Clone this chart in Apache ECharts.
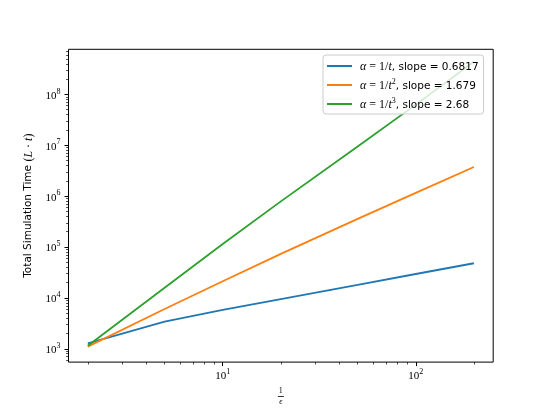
<!DOCTYPE html>
<html>
<head>
<meta charset="utf-8">
<script src="https://cdn.jsdelivr.net/npm/echarts@6/dist/echarts.min.js"></script>
<style>
  html, body { margin: 0; padding: 0; background: #fff; }
  #chart { width: 548px; height: 411px; }
</style>
</head>
<body>
<div id="chart"></div>
<script>
// 1/epsilon values
const xValues = [2, 5, 10, 20, 50, 100, 200]
// total simulation time, one array per schedule
const simT1 = [1280, 3400, 5800, 9500, 18000, 29500, 48000]
const simT2 = [1100, 6040, 21300, 73300, 358000, 1160000, 3750000]
const simT3 = [1150, 15900, 115000, 790000, 9500000, 63000000, 440000000]

const seriesNames = ['t1', 't2', 't3']
const powers = ['', '2', '3']
const slopes = ['0.6817', '1.679', '2.68']
const colors = ['#1f77b4', '#ff7f0e', '#2ca02c']

const xMajor = [1, 10, 100, 1000]
const yMajor = [100, 1000, 10000, 100000, 1000000, 10000000, 100000000, 1000000000]

const xRange = [1.589, 251.8]
const yRange = [547, 7.71e8]

function minorOf(major) {
  const out = []
  major.forEach(m => {
    for (let k = 2; k <= 9; k++) out.push(m * k)
  })
  return out
}

function pair(ys) {
  return xValues.map((x, i) => [x, ys[i]])
}

const serif = 'Liberation Serif'
const sans = 'DejaVu Sans'

const tickRich = {
  b: { fontFamily: serif, fontSize: 11, color: '#000', lineHeight: 14, verticalAlign: 'bottom' },
  e: { fontFamily: serif, fontSize: 8, color: '#000', lineHeight: 8, verticalAlign: 'top' }
}

function powLabel(v) {
  return '{b|10}{e|' + Math.round(Math.log10(v)) + '}'
}

const chart = echarts.init(document.getElementById('chart'), null, { renderer: 'canvas' })

chart.setOption({
  animation: false,
  backgroundColor: '#fff',
  grid: {
    left: 68.5, right: 54.8, top: 49.3, bottom: 45.2,
    show: true, borderColor: '#000', borderWidth: 1, backgroundColor: 'transparent'
  },
  legend: {
    orient: 'vertical',
    left: 323, top: 55,
    icon: 'rect',
    itemWidth: 25, itemHeight: 2,
    itemGap: 5,
    padding: [4, 5, 3, 4],
    backgroundColor: 'rgba(255,255,255,0.8)',
    borderColor: '#cccccc', borderWidth: 1, borderRadius: 3,
    formatter: name => {
      const i = seriesNames.indexOf(name)
      let s = '{mi|α}{m| = 1/}{mi|t}'
      if (powers[i]) s += '{e|' + powers[i] + '}'
      return s + '{s|, slope = ' + slopes[i] + '}'
    },
    textStyle: {
      padding: [0, 0, 0, 3],
      lineHeight: 14,
      rich: {
        mi: { fontFamily: serif, fontStyle: 'italic', fontSize: 12, color: '#000', lineHeight: 14, verticalAlign: 'bottom' },
        m: { fontFamily: serif, fontSize: 12, color: '#000', lineHeight: 14, verticalAlign: 'bottom' },
        e: { fontFamily: serif, fontSize: 8, color: '#000', lineHeight: 8, verticalAlign: 'top' },
        s: { fontFamily: sans, fontSize: 10.5, color: '#000', lineHeight: 14, verticalAlign: 'bottom' }
      }
    },
    data: seriesNames
  },
  xAxis: [
    {
      type: 'log', position: 'bottom', min: xRange[0], max: xRange[1],
      axisLine: { show: false },
      splitLine: { show: false },
      axisTick: { show: true, length: 4, lineStyle: { color: '#000', width: 1 }, customValues: xMajor },
      axisLabel: { margin: 6, formatter: powLabel, rich: tickRich, customValues: xMajor },
      name: '{n|1}\n{b|}\n{d|ϵ}',
      nameLocation: 'middle',
      nameGap: 14,
      nameTextStyle: {
        rich: {
          n: { fontFamily: serif, fontSize: 8, color: '#000', lineHeight: 8, align: 'center' },
          b: { width: 6, height: 0.8, backgroundColor: '#000', lineHeight: 3, align: 'center' },
          d: { fontFamily: serif, fontStyle: 'italic', fontSize: 8, color: '#000', lineHeight: 8, align: 'center' }
        }
      }
    },
    {
      type: 'log', position: 'bottom', min: xRange[0], max: xRange[1],
      axisLine: { show: false },
      splitLine: { show: false },
      axisTick: { show: true, length: 2.4, lineStyle: { color: '#000', width: 0.7 }, customValues: minorOf(xMajor) },
      axisLabel: { show: false }
    }
  ],
  yAxis: [
    {
      type: 'log', position: 'left', min: yRange[0], max: yRange[1],
      axisLine: { show: false },
      splitLine: { show: false },
      axisTick: { show: true, length: 4, lineStyle: { color: '#000', width: 1 }, customValues: yMajor },
      axisLabel: { margin: 8, formatter: powLabel, rich: tickRich, customValues: yMajor },
      name: '{s|Total Simulation Time }{m|(}{mi|L}{m| · }{mi|t}{m|)}',
      nameLocation: 'middle',
      nameGap: 30,
      nameTextStyle: {
        rich: {
          s: { fontFamily: sans, fontSize: 10.5, color: '#000', lineHeight: 14 },
          m: { fontFamily: serif, fontSize: 12, color: '#000', lineHeight: 14 },
          mi: { fontFamily: serif, fontStyle: 'italic', fontSize: 12, color: '#000', lineHeight: 14 }
        }
      }
    },
    {
      type: 'log', position: 'left', min: yRange[0], max: yRange[1],
      axisLine: { show: false },
      splitLine: { show: false },
      axisTick: { show: true, length: 2.4, lineStyle: { color: '#000', width: 0.7 }, customValues: minorOf(yMajor) },
      axisLabel: { show: false }
    }
  ],
  series: [simT1, simT2, simT3].map((ys, i) => ({
    name: seriesNames[i],
    type: 'line',
    data: pair(ys),
    showSymbol: false,
    symbol: 'none',
    color: colors[i],
    lineStyle: { width: 1.8, color: colors[i] },
    z: 2
  }))
})
</script>
</body>
</html>
